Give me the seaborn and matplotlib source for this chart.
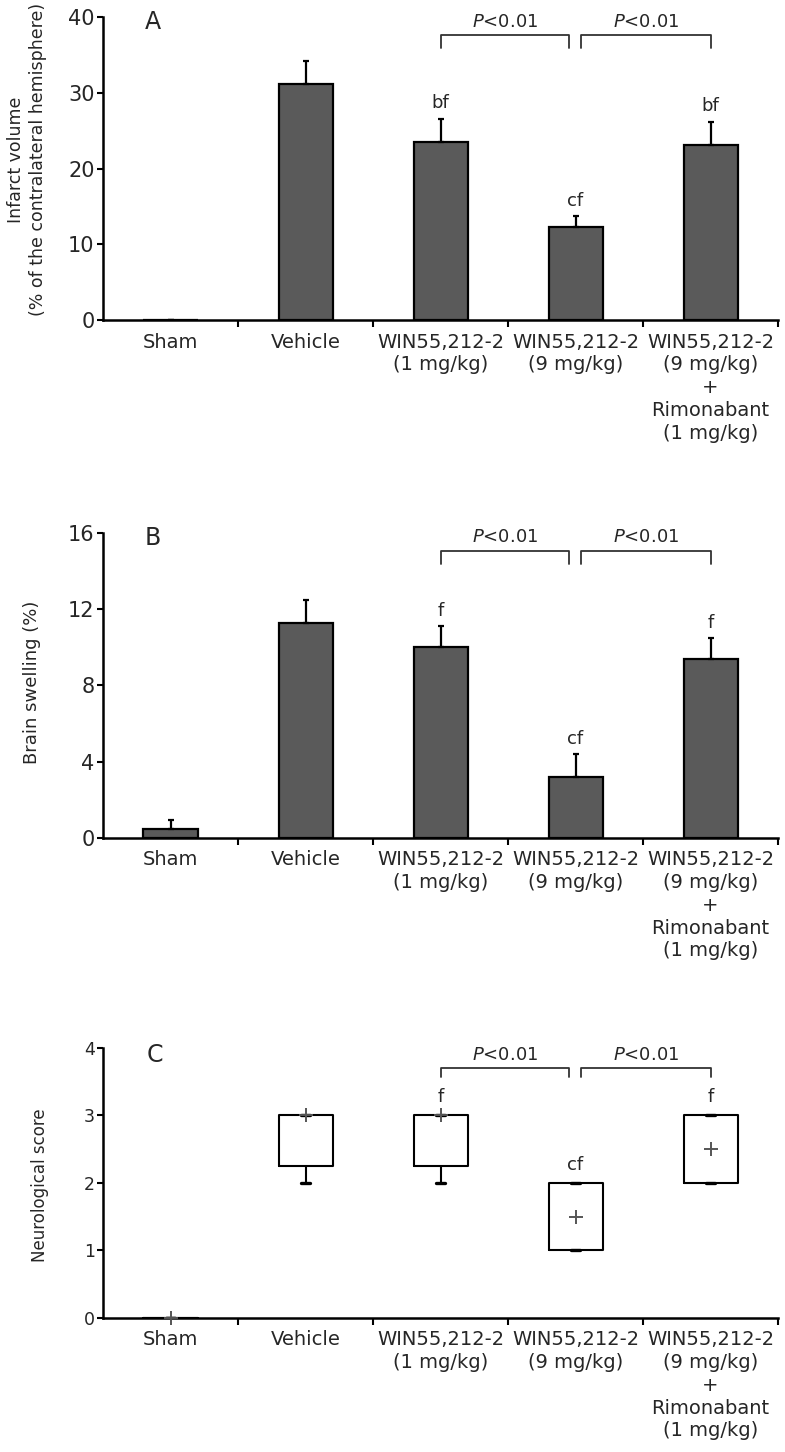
import numpy as np
import pandas as pd
import seaborn as sns
import matplotlib.pyplot as plt

# groups on the x axis (same for the three panels)
groups = ["Sham", "Vehicle", "WIN55,212-2\n(1 mg/kg)", "WIN55,212-2\n(9 mg/kg)",
          "WIN55,212-2\n(9 mg/kg)\n+\nRimonabant\n(1 mg/kg)"]

# A - infarct volume
infarct_mean = [0.0, 31.2, 23.5, 12.3, 23.1]
infarct_err = [0.0, 3.0, 3.1, 1.4, 3.1]
infarct_marks = ["", "", "bf", "cf", "bf"]

# B - brain swelling
swelling_mean = [0.45, 11.3, 10.0, 3.2, 9.4]
swelling_err = [0.5, 1.2, 1.1, 1.2, 1.1]
swelling_marks = ["", "", "f", "cf", "f"]

# C - neurological score (box summaries)
score_median = [0, 3, 3, 1.5, 2.5]
score_q1 = [0, 2.25, 2.25, 1, 2]
score_q3 = [0, 3, 3, 2, 3]
score_low = [0, 2, 2, 1, 2]
score_high = [0, 3, 3, 2, 3]
score_marks = ["", "", "f", "cf", "f"]

sns.set_style("ticks")
plt.rcParams['font.family'] = ['DejaVu Sans']

BAR_COLOR = '#5a5a5a'
LW = 1.6


def style_axis(ax, yticks, tick_size):
    sns.despine(ax=ax)
    for s in ['left', 'bottom']:
        ax.spines[s].set_linewidth(1.8)
        ax.spines[s].set_color('black')
    ax.set_ylim(yticks[0], yticks[-1])
    ax.set_yticks(yticks)
    ax.set_xticks(range(len(groups)))
    ax.set_xticklabels(groups, fontsize=14, linespacing=1.25)
    ax.set_xticks(np.arange(0.5, len(groups), 1), minor=True)
    ax.set_xlim(-0.5, len(groups) - 0.5)
    ax.tick_params(axis='x', which='major', length=0, pad=9)
    ax.tick_params(axis='x', which='minor', length=5, width=1.5, direction='out', color='black')
    ax.tick_params(axis='y', length=4, width=1.5, direction='out', labelsize=tick_size, pad=2, color='black')
    ax.set_xlabel('')


def brackets(ax, y_top, y_bot, y_text, size):
    for a, b in [(2, 2.95), (3.04, 4)]:
        ax.plot([a, a, b, b], [y_bot, y_top, y_top, y_bot], color='#333333', lw=1.3, clip_on=False)
        ax.text((a + b) / 2, y_text, '$P$<0.01', ha='center', va='center', fontsize=size)


def bar_panel(ax, means, errs, marks, yticks, ylabel, ylabel_size, letter, bkt):
    sns.barplot(x=groups, y=means, color=BAR_COLOR, saturation=1, edgecolor='black',
                linewidth=LW, width=0.4, errorbar=None, ax=ax)
    ax.errorbar(range(len(groups)), means, yerr=[np.zeros(len(means)), errs], fmt='none',
                ecolor='black', elinewidth=LW, capsize=2.5, capthick=LW, zorder=1)
    for i, m in enumerate(marks):
        if m:
            ax.annotate(m, (i, means[i] + errs[i]), xytext=(0, 11), textcoords='offset points',
                        ha='center', va='center', fontsize=13)
    style_axis(ax, yticks, 15)
    ax.set_ylabel(ylabel, fontsize=ylabel_size, linespacing=1.3)
    ax.text(0.062, 0.985, letter, transform=ax.transAxes, fontsize=17, ha='left', va='center')
    brackets(ax, *bkt, 13)


fig = plt.figure(figsize=(7.85, 14.52), dpi=100)

# panel A
axA = fig.add_axes([0.1312, 0.7796, 0.86, 0.2087])
bar_panel(axA, infarct_mean, infarct_err, infarct_marks, [0, 10, 20, 30, 40],
          'Infarct volume\n(% of the contralateral hemisphere)', 12.5, 'A', (37.6, 35.9, 39.3))
axA.yaxis.set_label_coords(-0.113, 0.53)
axA.yaxis.label.set_verticalalignment('center')

# panel B
axB = fig.add_axes([0.1312, 0.4229, 0.86, 0.2100])
bar_panel(axB, swelling_mean, swelling_err, swelling_marks, [0, 4, 8, 12, 16],
          'Brain swelling (%)', 13, 'B', (15.06, 14.4, 15.8))
axB.yaxis.set_label_coords(-0.105, 0.51)
axB.yaxis.label.set_verticalalignment('center')

# panel C
axC = fig.add_axes([0.1312, 0.0923, 0.86, 0.1860])
stats = [dict(med=score_median[i], q1=score_q1[i], q3=score_q3[i], whislo=score_low[i],
              whishi=score_high[i], fliers=[]) for i in range(len(groups))]
axC.bxp(stats, positions=range(len(groups)), widths=0.4, showfliers=False,
        boxprops=dict(color='black', lw=1.5), whiskerprops=dict(color='black', lw=1.5),
        capprops=dict(color='black', lw=2.4), medianprops=dict(lw=0), capwidths=0.07)
sns.scatterplot(x=list(range(len(groups))), y=score_median, marker='+', s=110,
                color='#555555', linewidth=1.4, ax=axC, zorder=3, clip_on=False)
for i, m in enumerate(score_marks):
    if m:
        axC.annotate(m, (i, score_q3[i]), xytext=(0, 13), textcoords='offset points',
                     ha='center', va='center', fontsize=13)
style_axis(axC, [0, 1, 2, 3, 4], 12.5)
axC.set_ylabel('Neurological score', fontsize=12)
axC.yaxis.set_label_coords(-0.093, 0.49)
axC.yaxis.label.set_verticalalignment('center')
axC.text(0.065, 0.975, 'C', transform=axC.transAxes, fontsize=17, ha='left', va='center')
brackets(axC, 3.70, 3.57, 3.9, 13)

fig.savefig('out.png', dpi=100)
